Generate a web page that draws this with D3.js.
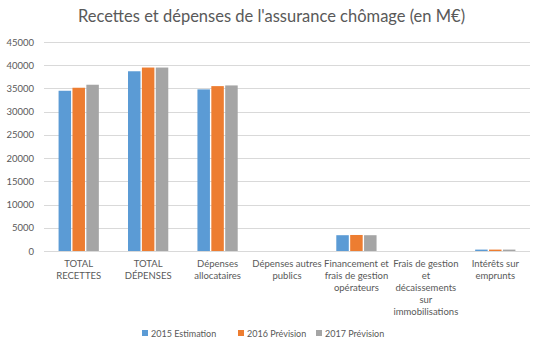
<!DOCTYPE html>
<html>
<head>
<meta charset="utf-8">
<script src="https://cdnjs.cloudflare.com/ajax/libs/d3/7.8.5/d3.min.js"></script>
<style>
  body { margin: 0; background: #fff; }
  svg { font-family: "Lato", "Open Sans", sans-serif; }
</style>
</head>
<body>
<svg id="chart" width="543" height="350"></svg>
<script>
// chart data
const categories = [
    "TOTAL\nRECETTES",
    "TOTAL\nDÉPENSES",
    "Dépenses\nallocataires",
    "Dépenses autres\npublics",
    "Financement et\nfrais de gestion\nopérateurs",
    "Frais de gestion\net\ndécaissements\nsur\nimmobilisations",
    "Intérêts sur\nemprunts"
];
const seriesNames = ["2015 Estimation", "2016 Prévision", "2017 Prévision"];
const est2015 = [34500, 38700, 34800, 0, 3400, 0, 300];
const prev2016 = [35150, 39500, 35500, 0, 3450, 0, 300];
const prev2017 = [35800, 39500, 35650, 0, 3400, 0, 300];
const yTicks = [0, 5000, 10000, 15000, 20000, 25000, 30000, 35000, 40000, 45000];
const colors = ["#5B9BD5", "#ED7D31", "#A5A5A5"];

const svg = d3.select("#chart");
const margin = {left: 44, right: 13, top: 42, bottom: 99};
const width = +svg.attr("width");
const height = +svg.attr("height");

const values = [est2015, prev2016, prev2017];
const rows = categories.map((c, i) => ({cat: c, vals: values.map(s => s[i])}));

const x0 = d3.scaleBand()
    .domain(categories)
    .range([margin.left, width - margin.right])
    .paddingInner(0.38)
    .paddingOuter(0.19);

const x1 = d3.scaleBand()
    .domain(seriesNames)
    .range([0, x0.bandwidth()])
    .padding(0.1);

const y = d3.scaleLinear()
    .domain([0, 45000])
    .range([height - margin.bottom, margin.top]);

// title
svg.append("text")
    .attr("x", width / 2)
    .attr("y", 22)
    .attr("text-anchor", "middle")
    .attr("fill", "#595959")
    .attr("font-size", 16.5)
    .text("Recettes et dépenses de l'assurance chômage (en M€)");

// gridlines
svg.append("g")
    .selectAll("line")
    .data(yTicks)
    .enter().append("line")
    .attr("x1", margin.left)
    .attr("x2", width - margin.right)
    .attr("y1", d => Math.round(y(d)) + 0.5)
    .attr("y2", d => Math.round(y(d)) + 0.5)
    .attr("stroke", "#d9d9d9")
    .attr("stroke-width", 1);

// y axis labels
const yAxis = d3.axisLeft(y).tickValues(yTicks).tickFormat(d3.format("d")).tickSize(0).tickPadding(10);
const yg = svg.append("g")
    .attr("transform", "translate(" + margin.left + ",0)")
    .call(yAxis);
yg.select(".domain").remove();
yg.selectAll("text")
    .attr("fill", "#595959")
    .attr("font-size", 9.5)
    .attr("font-family", "Lato, sans-serif");

// bars
const groups = svg.append("g")
    .selectAll("g")
    .data(rows)
    .enter().append("g")
    .attr("transform", d => "translate(" + x0(d.cat) + ",0)");

groups.selectAll("rect")
    .data(d => d.vals.map((v, i) => ({name: seriesNames[i], value: v, i: i})))
    .enter().append("rect")
    .attr("x", d => x1(d.name))
    .attr("width", x1.bandwidth())
    .attr("y", d => y(d.value))
    .attr("height", d => y(0) - y(d.value))
    .attr("fill", d => colors[d.i]);

// x labels
const xg = svg.append("g");
categories.forEach(c => {
    const t = xg.append("text")
        .attr("x", x0(c) + x0.bandwidth() / 2)
        .attr("y", y(0) + 16)
        .attr("text-anchor", "middle")
        .attr("fill", "#595959")
        .attr("font-size", 9.5);
    c.split("\n").forEach((line, k) => {
        t.append("tspan")
            .attr("x", x0(c) + x0.bandwidth() / 2)
            .attr("dy", k === 0 ? 0 : 12)
            .text(line);
    });
});

// legend
const legendX = [142, 238, 316];
const legend = svg.append("g");
seriesNames.forEach((name, i) => {
    legend.append("rect")
        .attr("x", legendX[i])
        .attr("y", 330)
        .attr("width", 6)
        .attr("height", 6)
        .attr("fill", colors[i]);
    legend.append("text")
        .attr("x", legendX[i] + 9)
        .attr("y", 337)
        .attr("fill", "#595959")
        .attr("font-size", 9)
        .text(name);
});
</script>
</body>
</html>
